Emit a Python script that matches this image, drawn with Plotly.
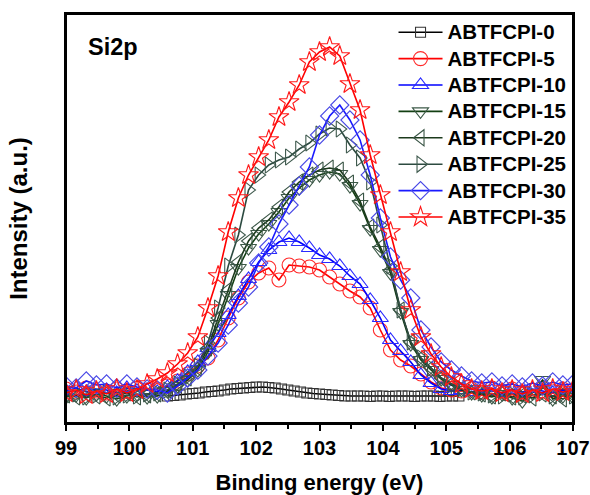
import plotly.graph_objects as go

# Binding energy grid (eV) for the sample spectra
energy = [99.00, 99.16, 99.32, 99.48, 99.64, 99.80, 99.96, 100.12, 100.28, 100.44,
          100.60, 100.76, 100.92, 101.08, 101.24, 101.40, 101.56, 101.72, 101.88, 102.04,
          102.20, 102.36, 102.52, 102.68, 102.84, 103.00, 103.16, 103.32, 103.48, 103.64,
          103.80, 103.96, 104.12, 104.28, 104.44, 104.60, 104.76, 104.92, 105.08, 105.24,
          105.40, 105.56, 105.72, 105.88, 106.04, 106.20, 106.36, 106.52, 106.68, 106.84,
          107.00]

# ABTFCPI-0 is measured on a finer grid
energy_0 = [100.6, 100.7, 100.8, 100.9, 101.0, 101.1, 101.2, 101.3, 101.4, 101.5,
            101.6, 101.7, 101.8, 101.9, 102.0, 102.1, 102.2, 102.3, 102.4, 102.5,
            102.6, 102.7, 102.8, 102.9, 103.0, 103.1, 103.2, 103.3, 103.4, 103.5,
            103.6, 103.7, 103.8, 103.9, 104.0, 104.1, 104.2, 104.3, 104.4, 104.5,
            104.6, 104.7, 104.8, 104.9, 105.0, 105.1, 105.2]

i_0 = [27, 27.5, 28, 29, 29.5, 30, 31, 31.5, 32, 33,
       34, 34.5, 35, 35.5, 36, 36, 35.5, 35, 34, 33,
       32, 31, 30, 29.5, 29, 28.5, 28, 27.5, 27, 27,
       27, 27, 26.5, 27, 27, 26.5, 27, 27, 27, 26.5,
       27, 27, 27, 26.5, 27, 27, 27]

i_5 = [34, 31, 35, 32, 30, 34, 32, 35, 33, 34, 37, 42, 49, 57, 65, 83, 105, 125, 141, 150,
       155, 143, 158, 157, 156, 153, 146, 139, 132, 126, 115, 93, 73, 63, 57, 49, 41, 35, 33, 32,
       34, 31, 35, 32, 34, 31, 33, 35, 32, 34, 33]

i_10 = [32, 35, 31, 34, 33, 30, 35, 32, 33, 31, 36, 42, 51, 61, 75, 90, 108, 127, 144, 161,
        173, 181, 185, 181, 175, 168, 164, 157, 147, 139, 123, 105, 83, 72, 61, 48, 40, 34, 32, 33,
        31, 34, 32, 30, 33, 31, 34, 32, 30, 33, 31]

i_15 = [26, 28, 25, 29, 27, 24, 27, 29, 26, 27, 32, 37, 43, 53, 71, 99, 128, 155, 175, 189,
        199, 211, 225, 235, 243, 248, 251, 249, 237, 219, 194, 173, 150, 111, 79, 63, 53, 44, 38, 33,
        30, 28, 26, 29, 25, 22, 30, 43, 24, 27, 26]

i_20 = [28, 26, 29, 27, 25, 28, 30, 26, 28, 29, 33, 38, 45, 55, 75, 105, 133, 161, 182, 195,
        203, 216, 231, 241, 248, 253, 255, 253, 240, 222, 196, 176, 153, 113, 81, 65, 55, 45, 39, 34,
        31, 29, 27, 30, 26, 28, 25, 29, 27, 24, 28]

i_25 = [27, 29, 26, 28, 30, 26, 28, 27, 29, 30, 33, 39, 46, 57, 80, 115, 157, 188, 233, 248,
        258, 263, 266, 274, 280, 289, 295, 294, 278, 265, 241, 198, 157, 113, 81, 65, 55, 45, 39, 34,
        31, 30, 28, 27, 29, 26, 28, 30, 27, 29, 27]

i_30 = [37, 35, 42, 38, 39, 35, 39, 36, 34, 33, 30, 37, 45, 53, 67, 80, 98, 120, 136, 160,
        176, 199, 218, 237, 256, 288, 307, 318, 303, 283, 248, 205, 166, 143, 125, 93, 76, 61, 53, 47,
        42, 40, 41, 37, 39, 36, 40, 37, 41, 38, 39]

i_35 = [30, 33, 28, 32, 29, 34, 30, 33, 39, 44, 50, 59, 70, 86, 115, 147, 191, 225, 248, 266,
        283, 306, 321, 338, 361, 371, 376, 367, 339, 313, 268, 228, 191, 151, 113, 86, 69, 56, 46, 39,
        34, 32, 34, 30, 33, 29, 33, 30, 34, 31, 33]

names = ["ABTFCPI-0", "ABTFCPI-5", "ABTFCPI-10", "ABTFCPI-15",
         "ABTFCPI-20", "ABTFCPI-25", "ABTFCPI-30", "ABTFCPI-35"]

tick_vals = [99, 100, 101, 102, 103, 104, 105, 106, 107]
tick_text = ["99", "100", "101", "102", "103", "104", "105", "106", "107"]

series = [
    (energy_0, i_0, "#000000", "#333333", "square-open", 10),
    (energy, i_5, "#ff0000", "#ff2a2a", "circle-open", 14),
    (energy, i_10, "#0000ff", "#2a2aff", "triangle-up-open", 14),
    (energy, i_15, "#123f12", "#3d5a48", "triangle-down-open", 14),
    (energy, i_20, "#1c3a1c", "#3a5646", "triangle-left-open", 14),
    (energy, i_25, "#2c4a40", "#3f5a4e", "triangle-right-open", 14),
    (energy, i_30, "#1a1aff", "#4a4ae6", "diamond-open", 14),
    (energy, i_35, "#ff0000", "#ff1a1a", "star-open", 15),
]

fig = go.Figure()
for name, (x, y, lc, mc, sym, sz) in zip(names, series):
    fig.add_trace(go.Scatter(
        x=x, y=y, mode="lines+markers",
        name="<span style='font-size:20.5px'>" + name + "</span>",
        line=dict(color=lc, width=1.6),
        marker=dict(symbol=sym, size=sz, color=mc, line=dict(width=1.1, color=mc)),
    ))

FONT = "Liberation Sans, Arial, sans-serif"

fig.update_layout(
    width=590, height=495,
    margin=dict(l=66, r=17, t=14, b=72, autoexpand=False),
    paper_bgcolor="white", plot_bgcolor="white",
    font=dict(family=FONT, color="black"),
    legend=dict(x=0.646, y=1.0, xanchor="left", yanchor="top",
                bgcolor="rgba(0,0,0,0)", borderwidth=0,
                font=dict(family=FONT, size=18, color="black", weight="bold"),
                itemwidth=44, tracegroupgap=0),
    annotations=[dict(text="<b>Si2p</b>", x=0.039, y=0.919, xref="paper", yref="paper",
                      xanchor="left", yanchor="middle", showarrow=False,
                      font=dict(family=FONT, size=23.5, color="black"))],
    shapes=[dict(type="rect", xref="paper", yref="paper", x0=0, y0=0, x1=1, y1=1,
                 line=dict(color="black", width=2), fillcolor="rgba(0,0,0,0)", layer="above")],
)

fig.update_xaxes(
    range=[99, 107], tickmode="array", tickvals=tick_vals,
    ticktext=["<b>" + t + "</b>" for t in tick_text],
    ticks="outside", ticklen=6, tickwidth=2, tickcolor="black",
    minor=dict(ticks="outside", ticklen=4, tickwidth=2, tickcolor="black", dtick=0.5, tick0=99),
    showline=True, linewidth=2, linecolor="black", mirror=True,
    showgrid=False, zeroline=False, automargin=False, ticklabeloverflow="allow",
    tickfont=dict(family=FONT, size=20, color="black"),
    title=dict(text="<b>Binding energy (eV)</b>", font=dict(family=FONT, size=22, color="black"), standoff=17),
)
fig.update_yaxes(
    range=[0, 409], showticklabels=False, ticks="",
    showline=True, linewidth=2, linecolor="black", mirror=True,
    showgrid=False, zeroline=False, automargin=False,
    title=dict(text="<b>Intensity (a.u.)</b>", font=dict(family=FONT, size=24, color="black"), standoff=30),
)

fig.write_html("out.html", config={"displayModeBar": False},
               post_script="document.body.style.margin='0';document.body.style.overflow='hidden';")
